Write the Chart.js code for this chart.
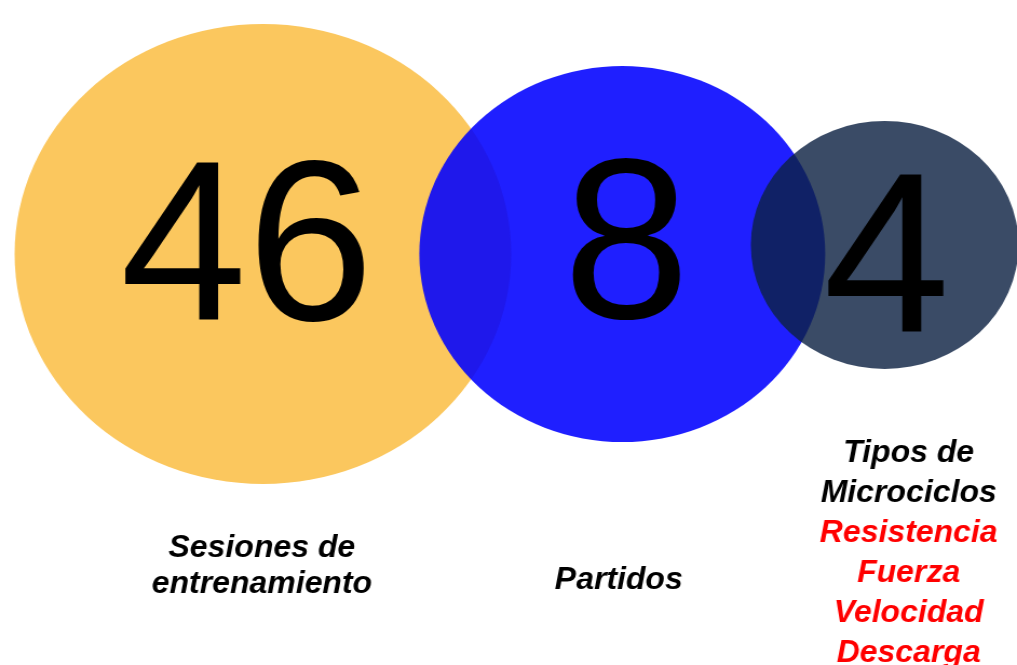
<!DOCTYPE html>
<html>
<head>
<meta charset="utf-8">
<script src="https://cdn.jsdelivr.net/npm/chart.js@4.4.1/dist/chart.umd.min.js"></script>
<style>
  html, body { margin: 0; padding: 0; background: #fff; overflow: hidden; }
  /* the bubbles in the picture are slightly wider than tall, so the canvas is stretched */
  #wrap { width: 942px; height: 665px; transform: scaleX(1.0796); transform-origin: 0 0; }
</style>
</head>
<body>
<div id="wrap"><canvas id="chart"></canvas></div>
<script>
const categories = [['Sesiones de', 'entrenamiento'], ['Partidos'], ['Tipos de', 'Microciclos']];
const counts = [46, 8, 4];
const xValues = [25.85, 61.19, 86.99];
const yValues = [61.8, 61.8, 63.16];
const bubbleSize = [230, 188, 124];
const microciclos = ['Resistencia', 'Fuerza', 'Velocidad', 'Descarga'];

const stretch = 1017 / 942;

// offsets of the numbers from the bubble centres, caption lines are page baselines
const numberPos = [{ dx: -16, dy: 66 }, { dx: 4, dy: 64 }, { dx: 2, dy: 87 }];
const captionPos = [
  { dx: -1, lines: [557, 593] },
  { dx: -3.5, lines: [589] },
  { dx: 24, lines: [462, 502, 542, 582, 622, 662] }
];

const labelsPlugin = {
  id: 'bubbleLabels',
  afterDatasetsDraw(chart) {
    const ctx = chart.ctx;
    const xs = chart.scales.x;
    const ys = chart.scales.y;
    ctx.save();
    // undo the css stretch for the text
    ctx.scale(1 / stretch, 1);
    ctx.textAlign = 'center';
    ctx.textBaseline = 'alphabetic';
    counts.forEach((v, i) => {
      const cx = xs.getPixelForValue(xValues[i]) * stretch;
      const cy = ys.getPixelForValue(yValues[i]);
      ctx.fillStyle = '#000';
      ctx.font = '228px "Liberation Sans", Arial, sans-serif';
      ctx.fillText(String(v), cx + numberPos[i].dx, cy + numberPos[i].dy);

      ctx.font = 'italic bold 32px "Liberation Sans", Arial, sans-serif';
      let lines = categories[i].map(t => ({ t, c: '#000' }));
      if (i === 2) lines = lines.concat(microciclos.map(t => ({ t, c: '#ff0000' })));
      lines.forEach((l, k) => {
        ctx.fillStyle = l.c;
        ctx.fillText(l.t, cx + captionPos[i].dx, captionPos[i].lines[k]);
      });
    });
    ctx.restore();
  }
};

let chartId = document.getElementById('chart');
let bubbleChart = new Chart(chartId, {
  type: 'bubble',
  data: {
    datasets: [{
      data: counts.map((v, i) => ({ x: xValues[i], y: yValues[i], r: bubbleSize[i] })),
      backgroundColor: [
        'rgb(251, 199, 94)',
        'rgba(0, 0, 255, 0.88)',
        'rgba(12, 33, 66, 0.81)'
      ],
      borderWidth: 0,
      hoverRadius: 0,
      clip: false
    }]
  },
  options: {
    responsive: true,
    maintainAspectRatio: false,
    animation: false,
    events: [],
    layout: { padding: 0, autoPadding: false },
    scales: {
      x: { display: false, min: 0, max: 100 },
      y: { display: false, min: 0, max: 100 }
    },
    plugins: {
      legend: { display: false },
      tooltip: { enabled: false }
    }
  },
  plugins: [labelsPlugin]
});
</script>
</body>
</html>
